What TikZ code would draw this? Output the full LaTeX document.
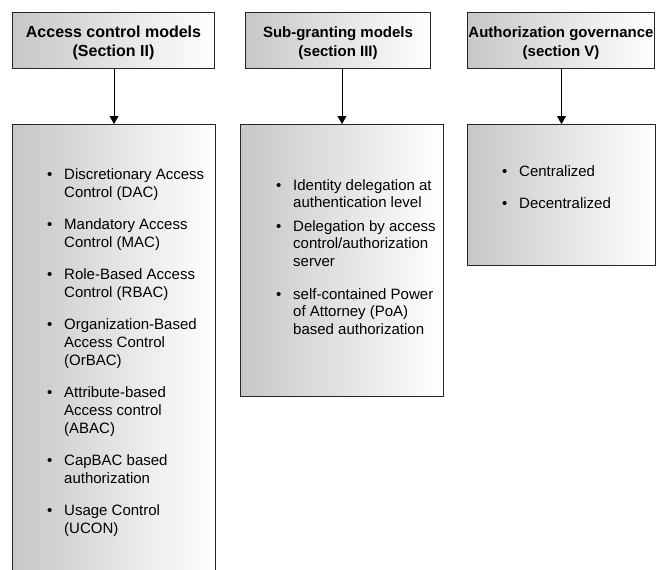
\documentclass[tikz,border=0pt]{standalone}
\usepackage{fontspec}
\setmainfont{Liberation Sans}
\usetikzlibrary{arrows.meta}
\newcommand{\bitem}[1]{\makebox[17pt][l]{•}\begin{tabular}[t]{@{}l@{}}#1\end{tabular}}
\tikzset{
  box/.style={draw=black!85, line width=1pt, left color=black!22, right color=white,
    inner sep=0pt, anchor=north west},
  htxt/.style={align=center, inner sep=0pt, yshift=-2.5pt, font=\bfseries\fontsize{15}{19}\selectfont},
  itm/.style={anchor=base west, inner sep=0pt, font=\fontsize{15}{18}\selectfont},
  itmb/.style={itm, font=\fontsize{15}{17.5}\selectfont},
  arr/.style={-{Triangle[length=8pt,width=9pt]}, line width=0.8pt, black},
}
\begin{document}
\begin{tikzpicture}[x=1pt,y=-1pt]
\clip (0,0) rectangle (656,570);
\fill[white] (0,0) rectangle (656,570);
% headers
\node[box, minimum width=202pt, minimum height=56pt] (h1) at (12,12) {};
\node[box, minimum width=185pt, minimum height=56pt] (h2) at (245,12) {};
\node[box, minimum width=187pt, minimum height=56pt] (h3) at (467,12) {};
\node[htxt, font=\bfseries\fontsize{16}{19}\selectfont] (h1t) at (h1.center) {Access control models\\(Section II)};
\node[htxt] (h2t) at (h2.center) {Sub-granting models\\(section III)};
\node[htxt] (h3t) at (h3.center) {Authorization governance\\(section V)};
% bodies
\node[box, minimum width=203pt, minimum height=480pt] (b1) at (12,124) {};
\node[box, minimum width=203pt, minimum height=272pt] (b2) at (240,124) {};
\node[box, minimum width=188pt, minimum height=141pt] (b3) at (467,124) {};
% arrows
\draw[arr] (b1.north |- h1.south) -- (b1.north);
\draw[arr] (b2.north |- h2.south) -- (b2.north);
\draw[arr] (b3.north |- h3.south) -- (b3.north);
% items, box 1
\node[itm] (i11) at (47,179) {\bitem{Discretionary Access\\Control (DAC)}};
\node[itm] (i12) at (47,229) {\bitem{Mandatory Access\\Control (MAC)}};
\node[itm] (i13) at (47,279) {\bitem{Role-Based Access\\Control (RBAC)}};
\node[itm] (i14) at (47,329) {\bitem{Organization-Based\\Access Control\\(OrBAC)}};
\node[itm] (i15) at (47,397) {\bitem{Attribute-based\\Access control\\(ABAC)}};
\node[itm] (i16) at (47,465) {\bitem{CapBAC based\\authorization}};
\node[itm] (i17) at (47,515) {\bitem{Usage Control\\(UCON)}};
% items, box 2
\node[itmb] (i21) at (276,190) {\bitem{Identity delegation at\\authentication level}};
\node[itmb] (i22) at (276,231) {\bitem{Delegation by access\\control/authorization\\server}};
\node[itmb] (i23) at (276,299) {\bitem{self-contained Power\\of Attorney (PoA)\\based authorization}};
% items, box 3
\node[itm] (i31) at (502,176) {\bitem{Centralized}};
\node[itm] (i32) at (502,208) {\bitem{Decentralized}};
\end{tikzpicture}
\end{document}
